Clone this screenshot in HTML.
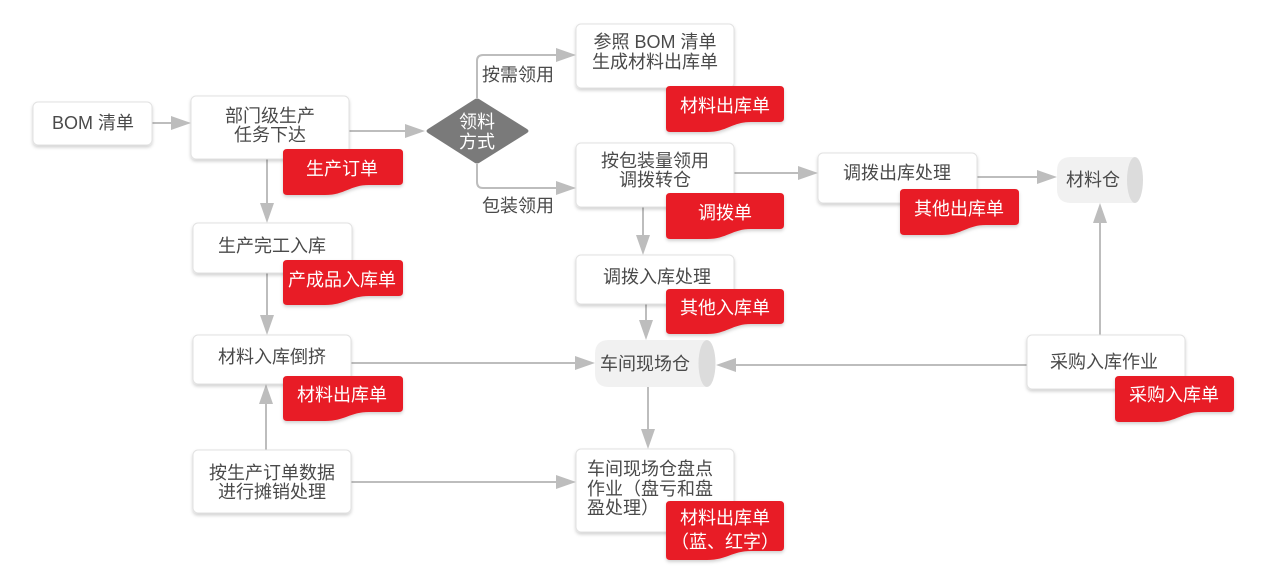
<!DOCTYPE html>
<html>
<head>
<meta charset="utf-8">
<style>
  html,body{margin:0;padding:0;background:#fff;}
  svg{display:block;}
  text{font-family:"Liberation Sans","Noto Sans CJK SC",sans-serif;font-size:18px;}
  .t{fill:#4a4a4a;text-anchor:middle;dominant-baseline:central;}
  .tl{fill:#4a4a4a;text-anchor:start;dominant-baseline:central;}
  .w{fill:#ffffff;text-anchor:middle;dominant-baseline:central;}
  .node{fill:#fff;stroke:#e2e2e2;stroke-width:1;}
  .ln{stroke:#bdbdbd;stroke-width:2;fill:none;}
  .ah{fill:#bdbdbd;}
  .tag{fill:#e81d25;}
</style>
</head>
<body>
<svg width="1267" height="584" viewBox="0 0 1267 584" xmlns="http://www.w3.org/2000/svg">
  <defs>
    <filter id="sh" x="-10%" y="-20%" width="120%" height="150%">
      <feDropShadow dx="0" dy="2" stdDeviation="1.5" flood-color="#000" flood-opacity="0.18"/>
    </filter>
  </defs>

  <!-- connectors -->
  <line class="ln" x1="152" y1="123" x2="173" y2="123"/>
  <polygon class="ah" points="191,123 171,116 171,130"/>

  <line class="ln" x1="349" y1="131" x2="407" y2="131"/>
  <polygon class="ah" points="425,131 405,124 405,138"/>

  <path class="ln" d="M477,98 V61 Q477,55 483,55 H558"/>
  <polygon class="ah" points="576,55 556,48 556,62"/>

  <path class="ln" d="M477,164 V182 Q477,188 483,188 H558"/>
  <polygon class="ah" points="576,188 556,181 556,195"/>

  <line class="ln" x1="734" y1="173" x2="800" y2="173"/>
  <polygon class="ah" points="818,173 798,166 798,180"/>

  <line class="ln" x1="977" y1="177" x2="1039" y2="177"/>
  <polygon class="ah" points="1057,177 1037,170 1037,184"/>

  <line class="ln" x1="643" y1="207" x2="643" y2="237"/>
  <polygon class="ah" points="643,255 636,235 650,235"/>

  <line class="ln" x1="646" y1="304" x2="646" y2="322"/>
  <polygon class="ah" points="646,340 639,320 653,320"/>

  <line class="ln" x1="267" y1="159" x2="267" y2="205"/>
  <polygon class="ah" points="267,223 260,203 274,203"/>

  <line class="ln" x1="267" y1="273" x2="267" y2="317"/>
  <polygon class="ah" points="267,335 260,315 274,315"/>

  <line class="ln" x1="266" y1="450" x2="266" y2="402"/>
  <polygon class="ah" points="266,384 259,404 273,404"/>

  <line class="ln" x1="351" y1="363" x2="577" y2="363"/>
  <polygon class="ah" points="595,363 575,356 575,370"/>

  <line class="ln" x1="1027" y1="365" x2="734" y2="365"/>
  <polygon class="ah" points="716,365 736,358 736,372"/>

  <line class="ln" x1="1100" y1="335" x2="1100" y2="221"/>
  <polygon class="ah" points="1100,203 1093,223 1107,223"/>

  <line class="ln" x1="648" y1="387" x2="648" y2="431"/>
  <polygon class="ah" points="648,449 641,429 655,429"/>

  <line class="ln" x1="351" y1="482" x2="558" y2="482"/>
  <polygon class="ah" points="576,482 556,475 556,489"/>

  <!-- edge labels -->
  <text class="t" x="518" y="75">按需领用</text>
  <text class="t" x="518" y="206">包装领用</text>

  <!-- nodes -->
  <g filter="url(#sh)">
    <rect class="node" x="33" y="102" width="119" height="43" rx="5"/>
    <rect class="node" x="191" y="96" width="158" height="63" rx="5"/>
    <rect class="node" x="576" y="24" width="158" height="64" rx="5"/>
    <rect class="node" x="576" y="143" width="158" height="64" rx="5"/>
    <rect class="node" x="818" y="153" width="159" height="50" rx="5"/>
    <rect class="node" x="193" y="223" width="159" height="50" rx="5"/>
    <rect class="node" x="576" y="255" width="158" height="49" rx="5"/>
    <rect class="node" x="193" y="335" width="158" height="49" rx="5"/>
    <rect class="node" x="1027" y="335" width="158" height="54" rx="5"/>
    <rect class="node" x="193" y="450" width="158" height="63" rx="5"/>
    <rect class="node" x="576" y="449" width="158" height="83" rx="5"/>
  </g>

  <text class="t" x="93" y="123">BOM 清单</text>
  <text class="t" x="270" y="116">部门级生产</text>
  <text class="t" x="270" y="135">任务下达</text>
  <text class="t" x="655" y="42">参照 BOM 清单</text>
  <text class="t" x="655" y="62">生成材料出库单</text>
  <text class="t" x="655" y="161">按包装量领用</text>
  <text class="t" x="655" y="180">调拨转仓</text>
  <text class="t" x="897" y="173">调拨出库处理</text>
  <text class="t" x="272" y="246">生产完工入库</text>
  <text class="t" x="657" y="277">调拨入库处理</text>
  <text class="t" x="272" y="357">材料入库倒挤</text>
  <text class="t" x="1104" y="362">采购入库作业</text>
  <text class="t" x="272" y="473">按生产订单数据</text>
  <text class="t" x="272" y="492">进行摊销处理</text>
  <text class="tl" x="587" y="469">车间现场仓盘点</text>
  <text class="tl" x="587" y="489">作业（盘亏和盘</text>
  <text class="tl" x="587" y="508">盈处理）</text>

  <!-- diamond -->
  <path d="M428,129 L475,99 Q477,98 479,99 L527,129 Q530,131 527,133 L479,163 Q477,164 475,163 L428,133 Q425,131 428,129 Z" fill="#7a7a7a"/>
  <text class="w" x="477" y="122">领料</text>
  <text class="w" x="477" y="142">方式</text>

  <!-- cylinders -->
  <path d="M1071,157 H1135 V203 H1071 Q1057,203 1057,189 V171 Q1057,157 1071,157 Z" fill="#f1f1f1"/>
  <ellipse cx="1135" cy="180" rx="8" ry="23" fill="#dcdcdc"/>
  <text class="t" x="1093" y="180">材料仓</text>

  <path d="M609,340 H707 V387 H609 Q595,387 595,373 V354 Q595,340 609,340 Z" fill="#f1f1f1"/>
  <ellipse cx="707" cy="363.5" rx="8.5" ry="23.5" fill="#dcdcdc"/>
  <text class="t" x="645" y="364">车间现场仓</text>

  <!-- tags -->
  <g filter="url(#sh)">
    <!-- 生产订单 -->
    <path class="tag" d="M287,149 H399 Q403,149 403,153 V181 Q403,185 399,185 H369 C350,185 345,195 325,195 H287 Q283,195 283,191 V153 Q283,149 287,149 Z"/>
    <!-- 材料出库单 top -->
    <path class="tag" d="M670,86 H780 Q784,86 784,90 V118 Q784,122 780,122 H751 C732,122 727,132 707,132 H670 Q666,132 666,128 V90 Q666,86 670,86 Z"/>
    <!-- 调拨单 -->
    <path class="tag" d="M670,193 H780 Q784,193 784,197 V225 Q784,229 780,229 H751 C732,229 727,239 707,239 H670 Q666,239 666,235 V197 Q666,193 670,193 Z"/>
    <!-- 其他出库单 -->
    <path class="tag" d="M904,189 H1015 Q1019,189 1019,193 V221 Q1019,225 1015,225 H986 C967,225 962,235 942,235 H904 Q900,235 900,231 V193 Q900,189 904,189 Z"/>
    <!-- 产成品入库单 -->
    <path class="tag" d="M287,260 H399 Q403,260 403,264 V292 Q403,296 399,296 H369 C350,296 345,305 325,305 H287 Q283,305 283,301 V264 Q283,260 287,260 Z"/>
    <!-- 其他入库单 -->
    <path class="tag" d="M670,289 H780 Q784,289 784,293 V320 Q784,324 780,324 H751 C732,324 727,334 707,334 H670 Q666,334 666,330 V293 Q666,289 670,289 Z"/>
    <!-- 材料出库单 mid -->
    <path class="tag" d="M287,376 H399 Q403,376 403,380 V408 Q403,412 399,412 H369 C350,412 345,421 325,421 H287 Q283,421 283,417 V380 Q283,376 287,376 Z"/>
    <!-- 采购入库单 -->
    <path class="tag" d="M1119,376 H1230 Q1234,376 1234,380 V408 Q1234,412 1230,412 H1201 C1182,412 1177,422 1157,422 H1119 Q1115,422 1115,418 V380 Q1115,376 1119,376 Z"/>
    <!-- 材料出库单(蓝、红字) -->
    <path class="tag" d="M670,501 H780 Q784,501 784,505 V547 Q784,551 780,551 H751 C732,551 727,560 707,560 H670 Q666,560 666,556 V505 Q666,501 670,501 Z"/>
  </g>

  <text class="w" x="342" y="169">生产订单</text>
  <text class="w" x="725" y="106">材料出库单</text>
  <text class="w" x="725" y="213">调拨单</text>
  <text class="w" x="959" y="209">其他出库单</text>
  <text class="w" x="342" y="280">产成品入库单</text>
  <text class="w" x="725" y="308">其他入库单</text>
  <text class="w" x="342" y="395">材料出库单</text>
  <text class="w" x="1174" y="395">采购入库单</text>
  <text class="w" x="725" y="518">材料出库单</text>
  <text class="w" x="725" y="542">（蓝、红字）</text>
</svg>
</body>
</html>
